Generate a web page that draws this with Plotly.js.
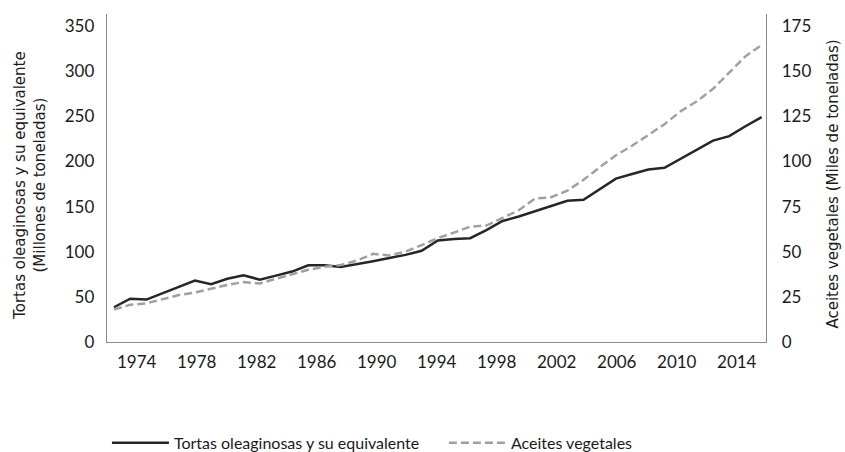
<!DOCTYPE html>
<html>
<head>
<meta charset="utf-8">
<script src="https://cdn.plot.ly/plotly-3.0.1.min.js"></script>
<style>
html,body{margin:0;padding:0;background:#fff;}
#chart{width:845px;height:452px;}
</style>
</head>
<body>
<div id="chart"></div>
<script>
// 41 annual observations
var years = [];
for (var yr = 1975; yr <= 2015; yr++) years.push(yr);

var tortas = [38.5, 48, 47, 54, 61, 68, 64, 70, 74, 69, 73.5, 78, 85, 85, 83, 86, 89.5, 93, 96.5, 101,
  112.5, 114, 115, 124, 134, 139, 145, 151, 156.5, 157.5, 169, 181, 186, 191, 193, 203, 213, 223, 228, 239, 249];

var aceites = [18, 20.6, 21.4, 23.6, 26, 27.4, 29.6, 31.6, 33.2, 32.4, 35, 37.6, 40, 41.6, 42.6, 45.1, 48.8, 47.9, 50.1, 53.7,
  57.5, 60.6, 63.9, 64.5, 68.9, 73, 79.4, 80.2, 83.8, 89.8, 96.8, 103.4, 108.7, 114.5, 120.6, 127.8, 133.3, 140.2, 149.3, 158.2, 164.5];

var tickYears = [1974, 1978, 1982, 1986, 1990, 1994, 1998, 2002, 2006, 2010, 2014];
var tickText = tickYears.map(String);

var nameTortas = 'Tortas oleaginosas y su equivalente';
var nameAceites = 'Aceites vegetales';

var traces = [
  {x: years, y: tortas, name: nameTortas, type: 'scatter', mode: 'lines',
   line: {color: '#262626', width: 2.5}, xaxis: 'x', yaxis: 'y'},
  {x: years, y: aceites, name: nameAceites, type: 'scatter', mode: 'lines',
   line: {color: '#a0a0a0', width: 2.5, dash: '8px,4px'}, xaxis: 'x', yaxis: 'y2'},
  {x: [], y: [], xaxis: 'x2', yaxis: 'y', showlegend: false, hoverinfo: 'skip'}
];

var tickFont = {family: 'Lato, "Open Sans", sans-serif', size: 17, color: '#1a1a1a'};
var titleFont = {family: '"DejaVu Sans", sans-serif', size: 15, color: '#1a1a1a'};

var layout = {
  width: 845, height: 452,
  margin: {l: 107, r: 79, t: 14, b: 110, pad: 0, autoexpand: false},
  paper_bgcolor: '#ffffff', plot_bgcolor: '#ffffff',
  showlegend: true,
  legend: {orientation: 'h', x: -0.0001, xanchor: 'left', y: -0.256, yanchor: 'top',
           font: {family: 'Lato, sans-serif', size: 16, color: '#1a1a1a'},
           itemwidth: 57, entrywidth: 265, entrywidthmode: 'pixels', bgcolor: 'rgba(0,0,0,0)'},
  xaxis: {range: [1974.568, 2015.27], showticklabels: false, ticks: '', showgrid: false, zeroline: false,
          showline: true, linecolor: '#8a8a8a', linewidth: 1.3, fixedrange: true},
  xaxis2: {overlaying: 'x', anchor: 'y', side: 'bottom', range: [1972.02, 2015.95],
           tickmode: 'array', tickvals: tickYears, ticktext: tickText, ticks: '',
           showgrid: false, zeroline: false, showline: false, tickfont: tickFont,
           ticklabelstandoff: 8, fixedrange: true},
  yaxis: {range: [0, 363.3], tickmode: 'linear', tick0: 0, dtick: 50, ticks: '', showgrid: false,
          zeroline: false, showline: true, linecolor: '#8a8a8a', linewidth: 1.3, tickfont: tickFont,
          ticklabelstandoff: 8, fixedrange: true},
  yaxis2: {range: [0, 181.65], tickmode: 'linear', tick0: 0, dtick: 25, overlaying: 'y', side: 'right',
           anchor: 'x', ticks: '', showgrid: false, zeroline: false, showline: true, linecolor: '#8a8a8a',
           linewidth: 1.3, tickfont: tickFont, ticklabelstandoff: 11, fixedrange: true},
  annotations: [
    {text: 'Tortas oleaginosas y su equivalente<br>(Millones de toneladas)', textangle: -90,
     xref: 'paper', yref: 'paper', x: 0, y: 0.476, xanchor: 'center', yanchor: 'middle',
     xshift: -77, showarrow: false, font: titleFont, align: 'center'},
    {text: 'Aceites vegetales (Miles de toneladas)', textangle: -90,
     xref: 'paper', yref: 'paper', x: 1, y: 0.48, xanchor: 'center', yanchor: 'middle',
     xshift: 67, showarrow: false, font: titleFont}
  ]
};

Plotly.newPlot('chart', traces, layout, {displayModeBar: false, staticPlot: true});
</script>
</body>
</html>
